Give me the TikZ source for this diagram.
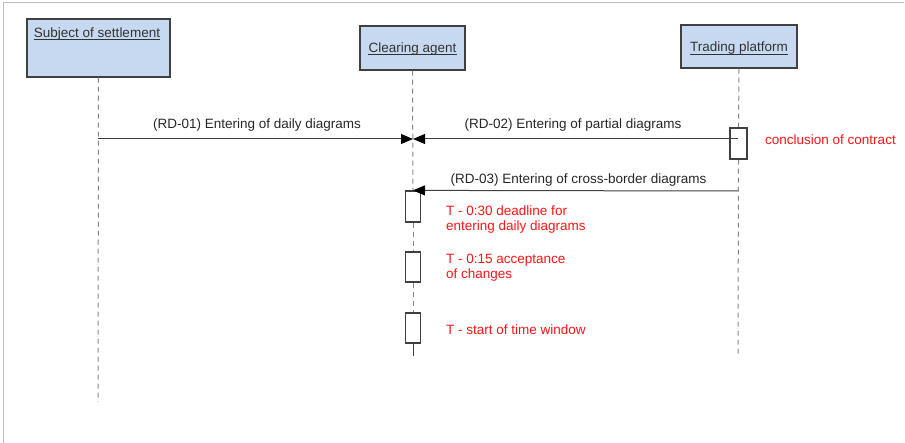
\documentclass[tikz,border=0pt]{standalone}
\usepackage{fontspec}
\setmainfont{Liberation Sans}
\usetikzlibrary{arrows.meta}
\definecolor{hdrfill}{RGB}{198,217,240}
\definecolor{hdrdraw}{RGB}{64,64,64}
\definecolor{lifegray}{RGB}{135,135,135}
\definecolor{notered}{RGB}{255,20,20}
\definecolor{framegray}{RGB}{190,190,190}
\begin{document}
\begin{tikzpicture}[x=1pt,y=-1pt,
  font=\fontsize{13.5}{15.5}\selectfont,
  actor/.style={draw=hdrdraw,line width=1.2pt,fill=hdrfill,inner sep=0pt},
  hdrtext/.style={anchor=base,inner sep=0pt,text=black!80},
  uline/.style={draw=black!80,line width=0.7pt},
  lifeline/.style={draw=lifegray,dash pattern=on 5pt off 4pt,line width=1pt},
  solidlife/.style={draw=hdrdraw,line width=1pt},
  actbox/.style={draw=hdrdraw,line width=1.2pt,fill=white,inner sep=0pt,minimum width=15pt},
  msg/.style={draw=black!75,line width=1pt,-{Triangle[length=12pt,width=10pt,color=black]}},
  msglabel/.style={inner sep=0pt,anchor=base,text=black!85},
  note/.style={inner sep=0pt,text=notered,anchor=base west}]
\useasboundingbox (0,0) rectangle (905,443);
\draw[framegray,line width=1pt] (3,443) -- (3,3) -- (904,3);
% headers
\node[actor,minimum width=143pt,minimum height=58pt] (subj) at (98.5,48) {};
\node[hdrtext] (subjt) at (97,37.5) {Subject of settlement};
\node[actor,minimum width=105pt,minimum height=44pt] (clear) at (412.5,48) {};
\node[hdrtext] (cleart) at (412.5,52.5) {Clearing agent};
\node[actor,minimum width=116pt,minimum height=43pt] (trade) at (739,46.5) {};
\node[hdrtext] (tradet) at (739,52) {Trading platform};
\draw[uline] ([yshift=-2pt]subjt.base west) -- ([yshift=-2pt]subjt.base east);
\draw[uline] ([yshift=-2pt]cleart.base west) -- ([yshift=-2pt]cleart.base east);
\draw[uline] ([yshift=-2pt]tradet.base west) -- ([yshift=-2pt]tradet.base east);
% activation boxes
\node[actbox,minimum width=17pt,minimum height=31pt] (tact) at (738.5,143.5) {};
\node[actbox,minimum height=31pt] (cact1) at (413,206.5) {};
\node[actbox,minimum height=30pt] (cact2) at (413,267) {};
\node[actbox,minimum height=30pt] (cact3) at (413,328) {};
% end coordinates
\coordinate (subjend) at (98,402);
\coordinate (tradeend) at (738,354);
\coordinate (clearend) at (413,356);
\coordinate (meet) at (413,139);
\coordinate (subjmsg) at (98,139);
\coordinate (tmsg) at (738,139);
\coordinate (tmsg3) at (738,191);
% lifelines
\draw[lifeline] (subj.south) -- (subjend);
\draw[lifeline] (trade.south) -- (tact.north);
\draw[lifeline] (tact.south) -- (tradeend);
\draw[lifeline] (clear.south) -- (cact1.north);
\draw[lifeline] (cact1.south) -- (cact2.north);
\draw[lifeline] (cact2.south) -- (cact3.north);
\draw[solidlife] (cact3.south) -- (clearend);
\node[actbox,minimum width=17pt,minimum height=31pt,fill=none] (tactframe) at (tact) {};
% messages
\draw[msg] (subjmsg) -- (meet);
\node[msglabel] (l1) at (257,129) {(RD-01) Entering of daily diagrams};
\draw[msg] (tmsg) -- (meet);
\node[msglabel] (l2) at (573,129) {(RD-02) Entering of partial diagrams};
\draw[msg] (tmsg3) -- (cact1.north);
\node[msglabel] (l3) at (578.5,184) {(RD-03) Entering of cross-border diagrams};
% notes
\node[note] (n0) at (765,145) {conclusion of contract};
\node[note] (n1a) at (446,215.5) {T - 0:30 deadline for};
\node[note] (n1b) at (446,231) {entering daily diagrams};
\node[note] (n2a) at (446,263.5) {T - 0:15 acceptance};
\node[note] (n2b) at (446,279) {of changes};
\node[note] (n3) at (446,335) {T - start of time window};
\end{tikzpicture}
\end{document}
